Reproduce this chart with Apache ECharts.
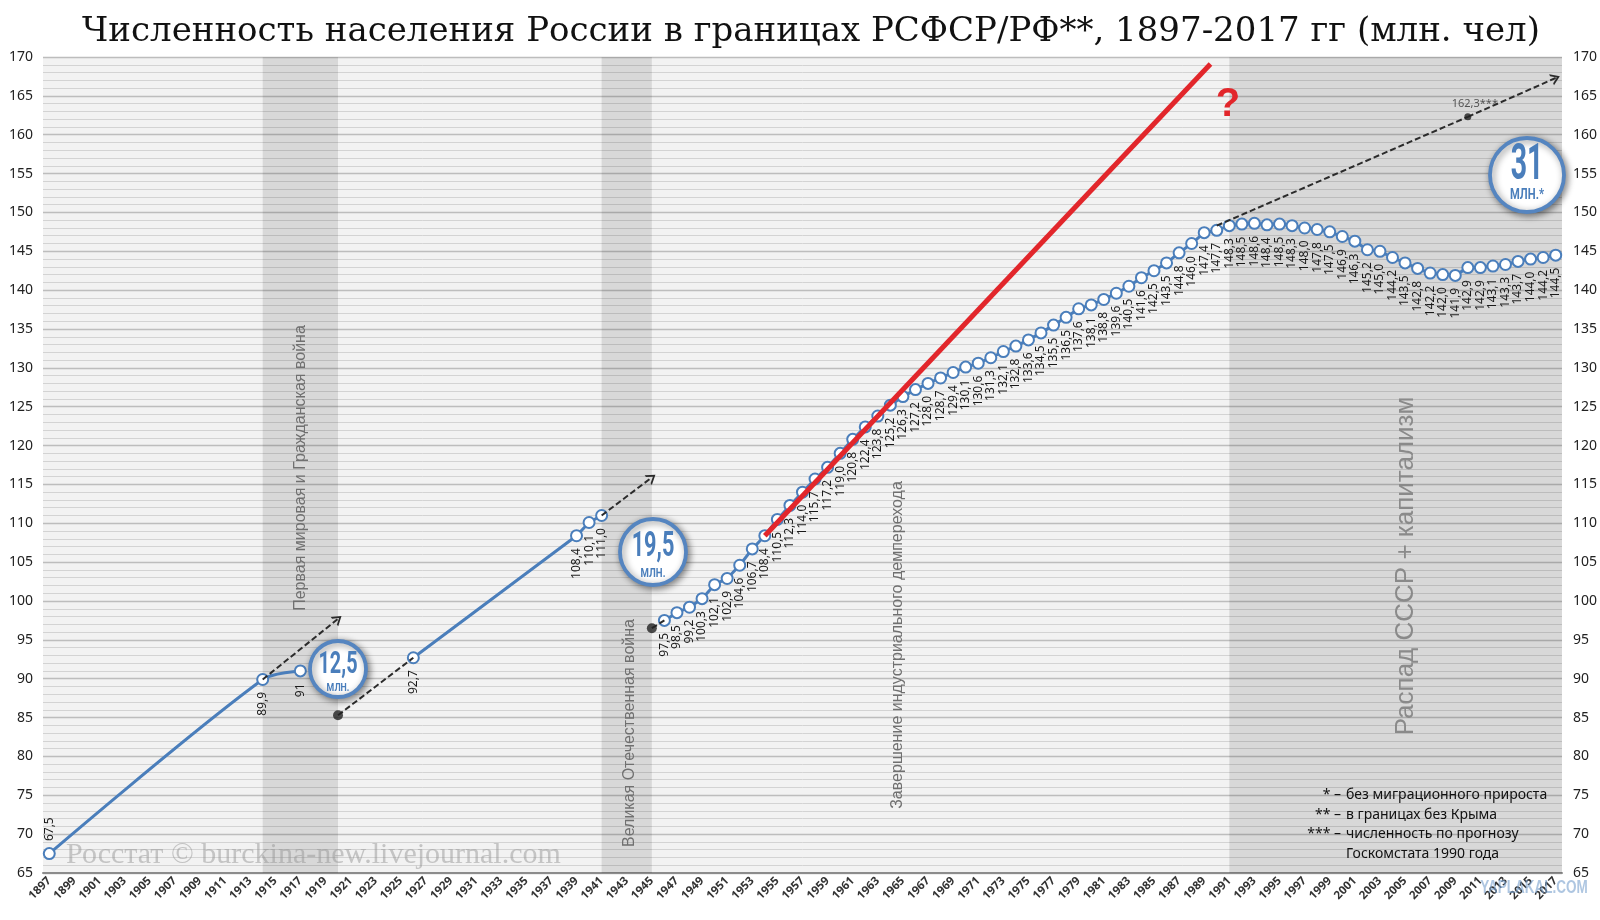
<!DOCTYPE html>
<html><head><meta charset="utf-8">
<script src="https://cdn.jsdelivr.net/npm/echarts@6/dist/echarts.min.js"></script>
<style>html,body{margin:0;padding:0;background:#fff}#c{width:1600px;height:920px}</style>
</head><body><div id="c"></div>
<script>
// ---- data ----
const yearLabels = [];
for (let y = 1897; y <= 2017; y++) yearLabels.push(String(y));
const yearsA = [1897, 1914, 1917];
const popA = [67.5, 89.9, 91.0];
const yearsB = [1926, 1939, 1940, 1941];
const popB = [92.7, 108.4, 110.1, 111.0];
const yearsC = [];
for (let y = 1946; y <= 2017; y++) yearsC.push(y);
const popC = [97.5, 98.5, 99.2, 100.3, 102.1, 102.9, 104.6, 106.7, 108.4, 110.5,
  112.3, 114.0, 115.7, 117.2, 119.0, 120.8, 122.4, 123.8, 125.2, 126.3,
  127.2, 128.0, 128.7, 129.4, 130.1, 130.6, 131.3, 132.1, 132.8, 133.6,
  134.5, 135.5, 136.5, 137.6, 138.1, 138.8, 139.6, 140.5, 141.6, 142.5,
  143.5, 144.8, 146.0, 147.4, 147.7, 148.3, 148.5, 148.6, 148.4, 148.5,
  148.3, 148.0, 147.8, 147.5, 146.9, 146.3, 145.2, 145.0, 144.2, 143.5,
  142.8, 142.2, 142.0, 141.9, 142.9, 142.9, 143.1, 143.3, 143.7, 144.0,
  144.2, 144.5];
// red trend
const trendYears = [1954, 1989.5];
const trendPop = [108.4, 169.1];
// projection (dashed) segments
const projFromYear = [1914, 1920, 1941, 1945, 1990, 2010];
const projFromVal  = [89.9, 85.3, 111.0, 96.5, 148.3, 162.3];
const projToYear   = [1920, 1926, 1945, 1946, 2010, 2017];
const projToVal    = [97.7, 92.7, 115.9, 97.5, 162.3, 167.3];
const projArrow    = [true, false, true, false, false, true];
// black dots
const dotYears = [1920, 1945, 2010];
const dotVals = [85.3, 96.5, 162.3];
// shaded periods
const bandFrom = [1914, 1941, 1991];
const bandTo = [1920, 1945, 2017.5];

const BLUE = '#4a7ebb';
const fmt = v => (v === 91 ? '91' : v.toFixed(1).replace('.', ','));
const chevron = 'path://M0,10 L5,0 L10,10 L8.2,10 L5,3.6 L1.8,10 Z';

function lineSeries(ys, vs, extra) {
  return Object.assign({
    type: 'line', xAxisIndex: 1, yAxisIndex: 0,
    data: ys.map((y, i) => [y, vs[i]]),
    symbol: 'emptyCircle', symbolSize: 11,
    lineStyle: { color: BLUE, width: 3 },
    itemStyle: { color: BLUE, borderColor: BLUE, borderWidth: 3 },
    label: {
      show: true, position: 'bottom', rotate: 90, align: 'right', verticalAlign: 'middle',
      distance: 6, fontFamily: 'Noto Sans', fontSize: 12, color: '#1a1a1a',
      formatter: p => fmt(p.value[1])
    },
    z: 4
  }, extra || {});
}

const seriesA = lineSeries(yearsA, popA, { smooth: 0.3 });
seriesA.data[0] = { value: [yearsA[0], popA[0]], label: { position: 'top', align: 'left' } };

const markLines = projFromYear.map((y, i) => [
  { coord: [y, projFromVal[i]], symbol: 'none' },
  { coord: [projToYear[i], projToVal[i]], symbol: projArrow[i] ? chevron : 'none', symbolSize: [12, 9] }
]);

const option = {
  animation: false,
  backgroundColor: '#ffffff',
  grid: { left: 43, right: 38, top: 57, bottom: 47, show: true, backgroundColor: '#f2f2f2', borderWidth: 0 },
  xAxis: [
    {
      type: 'category', data: yearLabels, boundaryGap: true,
      axisLine: { lineStyle: { color: '#8c8c8c', width: 2 } },
      axisTick: { interval: 0, length: 5, lineStyle: { color: '#8c8c8c', width: 2 } },
      axisLabel: { interval: 1, rotate: 45, fontFamily: 'Noto Sans', fontSize: 11.5, fontWeight: 'bold', color: '#333', margin: 6 },
      splitLine: { show: false }
    },
    { type: 'value', min: 1896.5, max: 2017.5, show: false, splitLine: { show: false } }
  ],
  yAxis: [
    {
      type: 'value', min: 65, max: 170, interval: 5, position: 'left',
      axisLine: { show: false }, axisTick: { show: false },
      axisLabel: { fontFamily: 'Noto Sans', fontSize: 14, color: '#222', margin: 10 },
      splitLine: { lineStyle: { color: '#bdbdbd', width: 1.3 } },
      minorTick: { show: false, splitNumber: 5 },
      minorSplitLine: { show: true, lineStyle: { color: '#d3d3d3', width: 1 } }
    },
    {
      type: 'value', min: 65, max: 170, interval: 5, position: 'right',
      axisLine: { show: false }, axisTick: { show: false },
      axisLabel: { fontFamily: 'Noto Sans', fontSize: 14, color: '#222', margin: 11 },
      splitLine: { show: false }
    }
  ],
  series: [
    {
      type: 'line', xAxisIndex: 1, yAxisIndex: 0, data: [], silent: true, z: 1,
      markArea: {
        silent: true,
        itemStyle: { color: 'rgba(0,0,0,0.105)' },
        data: bandFrom.map((b, i) => [{ xAxis: b }, { xAxis: bandTo[i] }])
      }
    },
    {
      type: 'line', xAxisIndex: 1, yAxisIndex: 0, data: [], silent: true, z: 3,
      markLine: {
        silent: true, animation: false,
        label: { show: false },
        lineStyle: { color: '#2b2b2b', width: 2, type: [6, 3] },
        emphasis: { disabled: true },
        data: markLines
      }
    },
    {
      type: 'scatter', xAxisIndex: 1, yAxisIndex: 0, z: 5, silent: true,
      data: dotYears.map((y, i) => i === 2
        ? { value: [y, dotVals[i]], symbolSize: 7,
            label: { show: true, position: 'top', distance: 4, offset: [7, 0], formatter: '162,3***', fontFamily: 'Noto Sans', fontSize: 11, color: '#333' } }
        : [y, dotVals[i]]),
      symbolSize: 10, itemStyle: { color: '#222' }
    },
    seriesA,
    lineSeries(yearsB, popB),
    lineSeries(yearsC, popC),
    {
      type: 'line', xAxisIndex: 1, yAxisIndex: 0, z: 6, silent: true,
      data: trendYears.map((y, i) => [y, trendPop[i]]),
      symbol: 'none', lineStyle: { color: '#e2262b', width: 5 }
    }
  ],
  graphic: []
};

function bubble(cx, cy, r, big, bigSize, bigDy, bigScale, small, smallSize, smallDy) {
  return [
    { type: 'circle', z: 100, shape: { cx: cx, cy: cy, r: r },
      style: { fill: '#fff', stroke: '#5585c0', lineWidth: 3.8, shadowBlur: 7, shadowColor: 'rgba(0,0,0,0.45)', shadowOffsetX: 2, shadowOffsetY: 2 } },
    { type: 'text', z: 101, x: cx, y: cy + bigDy, scaleX: bigScale,
      style: { text: big, fill: BLUE, fontFamily: 'Roboto', fontWeight: 'bold', fontSize: bigSize, textAlign: 'center', textVerticalAlign: 'middle' } },
    { type: 'text', z: 101, x: cx, y: cy + smallDy, scaleX: 0.8,
      style: { text: small, fill: BLUE, fontFamily: 'Roboto', fontWeight: 'bold', fontSize: smallSize, textAlign: 'center', textVerticalAlign: 'middle' } }
  ];
}
function vtext(x, y, text, size, color) {
  return { type: 'text', z: 90, x: x, y: y, rotation: Math.PI / 2,
    style: { text: text, fill: color, fontFamily: 'Liberation Sans', fontSize: size, textAlign: 'center', textVerticalAlign: 'middle' } };
}
const g = option.graphic;
g.push({ type: 'text', z: 100, x: 811, y: 32,
  style: { text: 'Численность населения России в границах РСФСР/РФ**, 1897-2017 гг (млн. чел)', fill: '#111',
    fontFamily: 'DejaVu Serif', fontSize: 34, textAlign: 'center', textVerticalAlign: 'middle' } });
g.push(vtext(301, 468, 'Первая мировая и Гражданская война', 16, '#707070'));
g.push(vtext(630, 733, 'Великая Отечественная война', 16, '#707070'));
g.push(vtext(898, 645, 'Завершение индустриального демперехода', 16, '#707070'));
g.push(vtext(1406, 566, 'Распад СССР + капитализм', 26, '#8a8a8a'));
g.push(...bubble(338, 669, 28, '12,5', 32, -4, 0.62, 'МЛН.', 11, 19));
g.push(...bubble(653, 552, 33, '19,5', 35, -5, 0.62, 'МЛН.', 12, 22));
g.push(...bubble(1527, 175, 37, '31', 50, -9, 0.57, 'МЛН.*', 14, 20));
g.push({ type: 'text', z: 100, x: 1228, y: 105,
  style: { text: '?', fill: '#e2262b', fontFamily: 'Liberation Sans', fontWeight: 'bold', fontSize: 40, textAlign: 'center', textVerticalAlign: 'middle' } });
g.push({ type: 'text', z: 100, x: 66, y: 855,
  style: { text: 'Росстат © burckina-new.livejournal.com', fill: 'rgba(150,150,150,0.5)', fontFamily: 'Liberation Serif', fontSize: 30, textAlign: 'left', textVerticalAlign: 'middle' } });
g.push({ type: 'text', z: 100, x: 1534, y: 888, scaleX: 0.75,
  style: { text: 'YAPLAKAL.COM', fill: 'rgba(120,160,205,0.6)', fontFamily: 'Liberation Sans', fontWeight: 'bold', fontSize: 18, textAlign: 'center', textVerticalAlign: 'middle' } });
const legPre = ['* –', '** –', '*** –', ''];
const legTxt = ['без миграционного прироста', 'в границах без Крыма', 'численность по прогнозу', 'Госкомстата 1990 года'];
const legY = [795, 815, 834, 854];
legTxt.forEach((t, i) => {
  if (legPre[i]) g.push({ type: 'text', z: 100, x: 1341, y: legY[i],
    style: { text: legPre[i], fill: '#111', fontFamily: 'Noto Sans', fontSize: 14, textAlign: 'right', textVerticalAlign: 'middle' } });
  g.push({ type: 'text', z: 100, x: 1346, y: legY[i],
    style: { text: t, fill: '#111', fontFamily: 'Noto Sans', fontSize: 14, textAlign: 'left', textVerticalAlign: 'middle' } });
});

const chart = echarts.init(document.getElementById('c'));
chart.setOption(option);
</script></body></html>
